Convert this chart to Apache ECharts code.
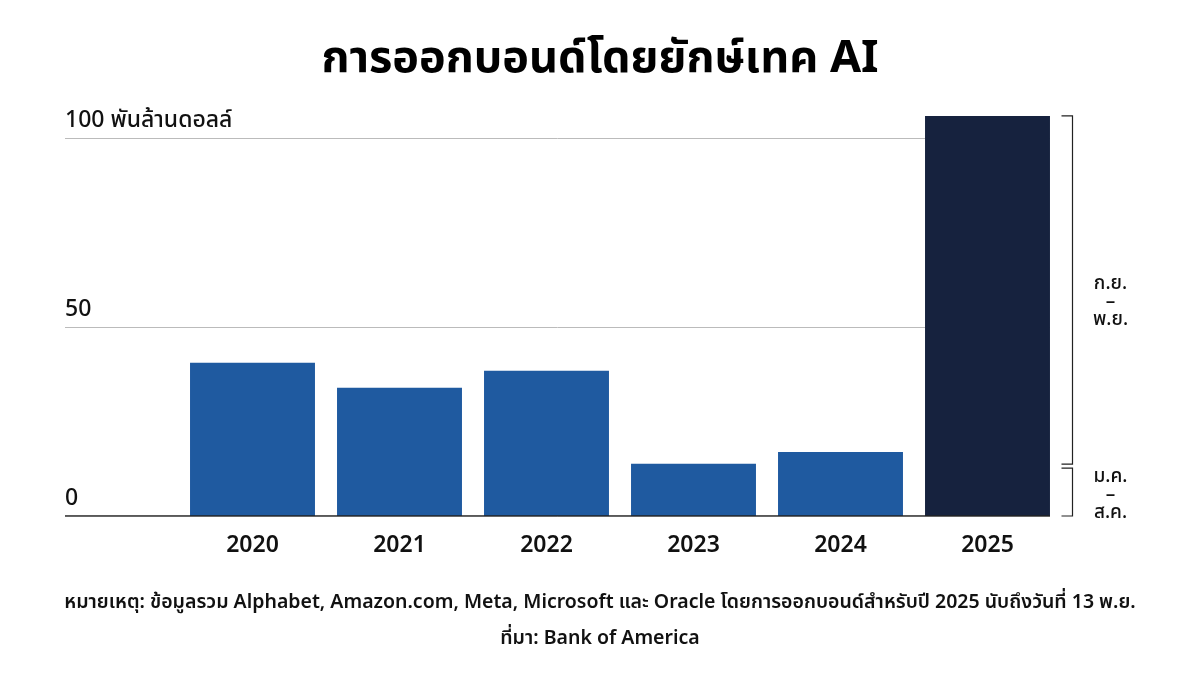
<!DOCTYPE html>
<html><head><meta charset="utf-8">
<script src="https://cdn.jsdelivr.net/npm/echarts@6/dist/echarts.min.js"></script>
<style>html,body{margin:0;padding:0;background:#fff}#c{width:1200px;height:675px}</style>
</head><body><div id="c"></div>
<script>
const categories = ['', '2020', '2021', '2022', '2023', '2024', '2025'];
const values = [null, 40.5, 33.9, 38.4, 13.8, 16.9, 105.8];
const split2025 = [13.2, 105.8]; // ม.ค.–ส.ค. cumulative, total
const bracketLabels = ['ม.ค.\n–\nส.ค.', 'ก.ย.\n–\nพ.ย.'];
const yTicks = [0, 50, 100];
const FONT = '"Noto Sans", "Noto Sans Thai", Lato, sans-serif';
const chart = echarts.init(document.getElementById('c'));
chart.setOption({
  backgroundColor: '#fff',
  animation: false,
  title: {text: 'การออกบอนด์โดยยักษ์เทค AI', left: 'center', top: 32,
    textStyle: {fontFamily: FONT, fontSize: 45, fontWeight: 'bold', color: '#000'}},
  graphic: [
    {type: 'text', left: 'center', top: 592, style: {text: 'หมายเหตุ: ข้อมูลรวม Alphabet, Amazon.com, Meta, Microsoft และ Oracle โดยการออกบอนด์สำหรับปี 2025 นับถึงวันที่ 13 พ.ย.', font: '600 19.5px ' + FONT, fill: '#111'}},
    {type: 'text', left: 'center', top: 628, style: {text: 'ที่มา: Bank of America', font: '600 19.5px ' + FONT, fill: '#111'}}
  ],
  grid: [
    {left: 32, width: 1029, top: 100, height: 416},
    {left: 65, right: 150, top: 138, height: 378}
  ],
  xAxis: [
    {type: 'category', gridIndex: 0, data: categories, axisLine: {show: false}, axisTick: {show: false},
      axisLabel: {fontFamily: FONT, fontSize: 23, fontWeight: 600, color: '#111', margin: 18}},
    {type: 'value', gridIndex: 1, min: 0, max: 1, show: true, axisLabel: {show: false}, axisTick: {show: false},
      splitLine: {show: false}, axisLine: {show: false}}
  ],
  yAxis: [
    {type: 'value', gridIndex: 0, min: 0, max: 110, show: false, splitLine: {show: false}},
    {type: 'value', gridIndex: 1, min: 0, max: 100, interval: 50,
      axisLine: {show: false}, axisTick: {show: false},
      splitLine: {lineStyle: {color: '#bbb', width: 1}},
      axisLabel: {inside: true, verticalAlign: 'bottom', align: 'left', margin: 0, padding: [0, 0, 6, 0],
        fontFamily: FONT, fontSize: 23, fontWeight: 500, color: '#111',
        formatter: v => yTicks.includes(v) ? (v === 100 ? '100 พันล้านดอลล์' : String(v)) : ''}}
  ],
  series: [
    {type: 'bar', xAxisIndex: 0, yAxisIndex: 0, barCategoryGap: '15%', z: 3,
      data: values.map((v, i) => ({value: v, itemStyle: {color: categories[i] === '2025' ? '#16223e' : '#1f5aa0'}}))},
    {type: 'line', xAxisIndex: 1, yAxisIndex: 1, data: [[0, 0], [1, 0]], symbol: 'none',
      lineStyle: {color: '#222', width: 1.5}, z: 4, silent: true},
    {type: 'custom', xAxisIndex: 0, yAxisIndex: 0, z: 5,
      data: [[6, 0, split2025[0], 0], [6, split2025[0], split2025[1], 1]],
      renderItem: function (params, api) {
        const lo = api.coord([api.value(0), api.value(1)]);
        const hi = api.coord([api.value(0), api.value(2)]);
        const x = lo[0] + 85, x0 = x - 11;
        const first = api.value(3) === 0;
        const yTop = first ? hi[1] + 2 : hi[1];
        const yBot = first ? lo[1] : lo[1] - 2;
        const ls = {stroke: '#222', lineWidth: 1.2, fill: null};
        return {type: 'group', children: [
          {type: 'polyline', shape: {points: [[x0, yTop], [x, yTop], [x, yBot], [x0, yBot]]}, style: ls},
          {type: 'text', style: {text: bracketLabels[api.value(3)], x: x + 38, y: first ? (yTop + yBot) / 2 + 3 : (yTop + yBot) / 2 + 12,
            align: 'center', verticalAlign: 'middle', font: '500 19px ' + FONT, fill: '#111', lineHeight: 18}}
        ]};
      }}
  ]
});
</script></body></html>
